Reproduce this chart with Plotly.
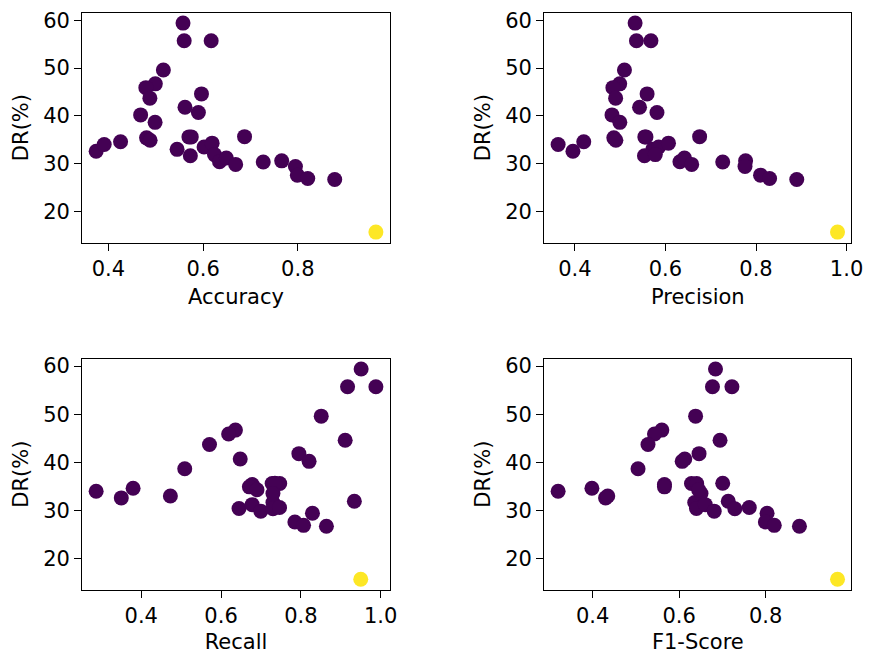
import plotly.graph_objects as go
from plotly.subplots import make_subplots

dr = [59.4, 55.7, 55.7, 49.6, 46.7, 45.9, 43.7, 44.6, 41.8, 40.7, 40.2, 38.65,
      35.4, 34.9, 35.6, 35.6, 35.65, 32.6, 34.0, 34.6, 33.0, 31.65, 33.5, 34.3,
      31.9, 30.4, 31.2, 29.85, 30.35, 30.6, 29.4, 27.6, 26.9, 26.7, 15.7]
accuracy = [0.5575, 0.560, 0.617, 0.516, 0.499, 0.479, 0.4875, 0.5965, 0.5617, 0.590, 0.468, 0.4985,
            0.4805, 0.488, 0.570, 0.575, 0.6875, 0.374, 0.391, 0.4256, 0.545, 0.573, 0.602, 0.619,
            0.624, 0.6346, 0.649, 0.6687, 0.727, 0.766, 0.795, 0.799, 0.821, 0.878, 0.965]
precision = [0.533, 0.536, 0.568, 0.5095, 0.499, 0.484, 0.490, 0.5595, 0.5428, 0.5813, 0.482, 0.4993,
             0.486, 0.4905, 0.5545, 0.557, 0.6755, 0.3957, 0.363, 0.4196, 0.572, 0.5537, 0.585, 0.6067,
             0.5776, 0.632, 0.642, 0.658, 0.7265, 0.777, 0.7757, 0.810, 0.830, 0.890, 0.980]
recall = [0.951, 0.917, 0.988, 0.851, 0.636, 0.619, 0.571, 0.911, 0.795, 0.648, 0.8206, 0.509,
          0.678, 0.671, 0.728, 0.747, 0.735, 0.350, 0.287, 0.3796, 0.473, 0.730, 0.730, 0.690,
          0.934, 0.645, 0.678, 0.6995, 0.730, 0.7465, 0.829, 0.785, 0.8067, 0.864, 0.950]
f1 = [0.684, 0.677, 0.722, 0.638, 0.560, 0.543, 0.528, 0.6945, 0.646, 0.613, 0.607, 0.505,
      0.566, 0.566, 0.6285, 0.6405, 0.7007, 0.430, 0.3203, 0.3984, 0.435, 0.636, 0.6505, 0.645,
      0.7135, 0.640, 0.6604, 0.681, 0.7287, 0.762, 0.8032, 0.7993, 0.8198, 0.878, 0.966]
label = [0] * 34 + [1]

metrics = [("Accuracy", accuracy), ("Precision", precision), ("Recall", recall), ("F1-Score", f1)]

W, H = 877, 654
fig = make_subplots(rows=2, cols=2)

xdom = [[83.3 / W, 395.3 / W], [551.7 / W, 863.3 / W]]
ydom = [[1 - 240 / H, 1 - 8.7 / H], [1 - 589.3 / H, 1 - 356.7 / H]]

def pad_range(v):
    lo, hi = min(v), max(v)
    p = (hi - lo) * 0.05
    return [lo - p, hi + p]

FS = 21
font = "DejaVu Sans, Verdana, sans-serif"
for i, (name, vals) in enumerate(metrics):
    r, c = i // 2 + 1, i % 2 + 1
    fig.add_trace(go.Scatter(
        x=vals, y=dr, mode="markers",
        marker=dict(size=15, color=label, colorscale="Viridis", cmin=0, cmax=1,
                    line=dict(width=0)),
        showlegend=False), row=r, col=c)
    xr = pad_range(vals)
    ticks = [t for t in [0.2, 0.4, 0.6, 0.8, 1.0] if xr[0] <= t <= xr[1]]
    fig.update_xaxes(domain=xdom[c - 1], range=xr, tickvals=ticks,
                     ticktext=[f"{t:.1f}" for t in ticks],
                     title=dict(text=name, standoff=9, font=dict(size=FS, color="black")),
                     row=r, col=c)
    fig.update_yaxes(domain=ydom[r - 1], range=pad_range(dr), tickvals=[20, 30, 40, 50, 60],
                     title=dict(text="DR(%)", standoff=8, font=dict(size=FS, color="black")),
                     row=r, col=c)

fig.update_xaxes(showgrid=False, zeroline=False, showline=True, mirror=True, linecolor="black",
                 linewidth=1.1, ticks="outside", ticklen=7, tickwidth=1.1, tickcolor="black",
                 tickfont=dict(size=FS, color="black"))
fig.update_yaxes(showgrid=False, zeroline=False, showline=True, mirror=True, linecolor="black",
                 linewidth=1.1, ticks="outside", ticklen=7, tickwidth=1.1, tickcolor="black",
                 tickfont=dict(size=FS, color="black"))

fig.update_layout(width=W, height=H, margin=dict(l=0, r=0, t=0, b=0),
                  plot_bgcolor="white", paper_bgcolor="white",
                  font=dict(family=font, size=FS, color="black"))

fig.write_html("out.html")
